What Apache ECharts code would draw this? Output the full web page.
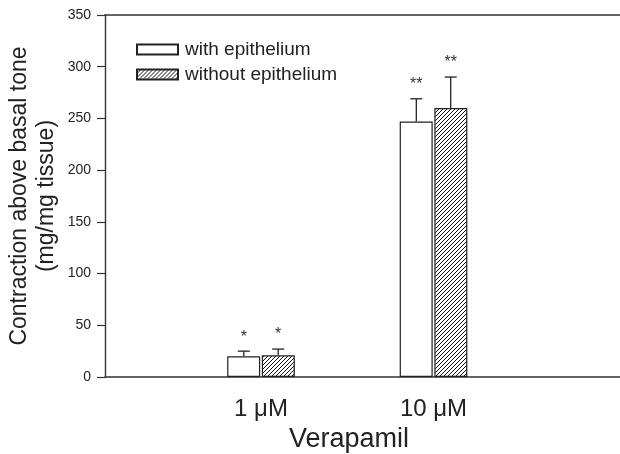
<!DOCTYPE html>
<html>
<head>
<meta charset="utf-8">
<script src="https://cdn.jsdelivr.net/npm/echarts@6/dist/echarts.min.js"></script>
<style>
html,body{margin:0;padding:0;background:#fff;}
#chart{width:620px;height:454px;}
</style>
</head>
<body>
<div id="chart"></div>
<script>
// ---- data ----
var categories = ['1 \u03bcM', '10 \u03bcM'];
var seriesNames = ['with epithelium', 'without epithelium'];
var withEpi = [20, 247];
var withEpiErr = [5, 22];
var withoutEpi = [21, 260];
var withoutEpiErr = [6, 30];
var withEpiStars = ['*', '**'];
var withoutEpiStars = ['*', '**'];
var yTicks = [0, 50, 100, 150, 200, 250, 300, 350];

var FONT = '"Liberation Sans", Arial, sans-serif';

// hatch pattern
function makeHatch() {
  var s = 4;
  var c = document.createElement('canvas');
  c.width = s; c.height = s;
  var g = c.getContext('2d');
  g.fillStyle = '#fff';
  g.fillRect(0, 0, s, s);
  g.strokeStyle = '#111';
  g.lineWidth = 1;
  g.beginPath();
  g.moveTo(0, s); g.lineTo(s, 0);
  g.moveTo(-1, 1); g.lineTo(1, -1);
  g.moveTo(s - 1, s + 1); g.lineTo(s + 1, s - 1);
  g.stroke();
  return { image: c, repeat: 'repeat' };
}
var hatch = makeHatch();

var xPos = categories.map(function (c, i) { return i + 1; });
function pairs(vals) { return vals.map(function (v, i) { return [xPos[i], v]; }); }
function errData(vals, errs, stars) {
  return vals.map(function (v, i) { return [xPos[i], v, v + errs[i], stars[i]]; });
}

var BAR_W = 33;
var OFFSET = 17.2;

function errRender(offset) {
  return function (params, api) {
    var top = api.coord([api.value(0), api.value(2)]);
    var base = api.coord([api.value(0), api.value(1)]);
    var x = top[0] + offset;
    var cap = 6;
    return {
      type: 'group',
      children: [
        { type: 'line', shape: { x1: x, y1: base[1], x2: x, y2: top[1] }, style: { stroke: '#222', lineWidth: 1.3 } },
        { type: 'line', shape: { x1: x - cap, y1: top[1], x2: x + cap, y2: top[1] }, style: { stroke: '#222', lineWidth: 1.3 } },
        { type: 'text', x: x, y: top[1] - 14, style: { text: api.value(3), textAlign: 'center', textVerticalAlign: 'middle', font: '16px ' + FONT, fill: '#333' } }
      ]
    };
  };
}

var chart = echarts.init(document.getElementById('chart'), null, { renderer: 'canvas' });
var XMIN = 0.0957, XMAX = 3.081;
chart.setOption({
  animation: false,
  backgroundColor: '#fff',
  grid: { left: 105, right: 0, top: 15, bottom: 77, containLabel: false, outerBoundsMode: 'none' },
  legend: {
    left: 131, top: 35, orient: 'vertical',
    itemWidth: 41, itemHeight: 10, itemGap: 6,
    icon: 'rect',
    data: seriesNames,
    textStyle: { fontFamily: FONT, fontSize: 19, color: '#222', lineHeight: 19, padding: [0, 0, 0, 2] }
  },
  xAxis: [{
    type: 'value', min: XMIN, max: XMAX,
    splitLine: { show: false },
    axisLine: { show: true, onZero: false, lineStyle: { color: '#333', width: 1.6 } },
    axisTick: { show: false },
    axisLabel: {
      customValues: xPos,
      formatter: function (v) { return categories[Math.round(v) - 1] || ''; },
      fontFamily: FONT, fontSize: 24, color: '#222', margin: 20
    },
    name: 'Verapamil', nameLocation: 'middle', nameGap: 44,
    nameTextStyle: { fontFamily: FONT, fontSize: 27, color: '#222', padding: [0, 27, 0, 0] }
  }, {
    type: 'value', min: XMIN, max: XMAX, position: 'top',
    splitLine: { show: false },
    axisLine: { show: true, onZero: false, lineStyle: { color: '#333', width: 1.6 } },
    axisTick: { show: false }, axisLabel: { show: false }
  }],
  yAxis: {
    type: 'value', min: yTicks[0], max: yTicks[yTicks.length - 1], interval: 50,
    splitLine: { show: false },
    axisLine: { show: true, lineStyle: { color: '#333', width: 1.4 } },
    axisTick: { show: true, length: 8, lineStyle: { color: '#333', width: 1.2 } },
    axisLabel: { fontFamily: FONT, fontSize: 14, color: '#222', margin: 14 }
  },
  graphic: [
    { type: 'text', x: 20, y: 196, rotation: Math.PI / 2, style: { text: 'Contraction above basal tone', font: '23px ' + FONT, fill: '#222', textAlign: 'center', textVerticalAlign: 'middle' } },
    { type: 'text', x: 47, y: 196, rotation: Math.PI / 2, style: { text: '(mg/mg tissue)', font: '23px ' + FONT, fill: '#222', textAlign: 'center', textVerticalAlign: 'middle' } }
  ],
  series: [
    {
      name: seriesNames[0], type: 'bar', data: pairs(withEpi),
      barWidth: BAR_W, barGap: '5%',
      itemStyle: { color: '#fff', borderColor: '#222', borderWidth: 1.2 }
    },
    {
      name: seriesNames[1], type: 'bar', data: pairs(withoutEpi),
      barWidth: BAR_W, barGap: '5%',
      itemStyle: { color: hatch, borderColor: '#222', borderWidth: 1.2 }
    },
    {
      type: 'custom', name: 'err1', renderItem: errRender(-OFFSET),
      data: errData(withEpi, withEpiErr, withEpiStars), z: 5, silent: true
    },
    {
      type: 'custom', name: 'err2', renderItem: errRender(OFFSET),
      data: errData(withoutEpi, withoutEpiErr, withoutEpiStars), z: 5, silent: true
    }
  ]
});
</script>
</body>
</html>
